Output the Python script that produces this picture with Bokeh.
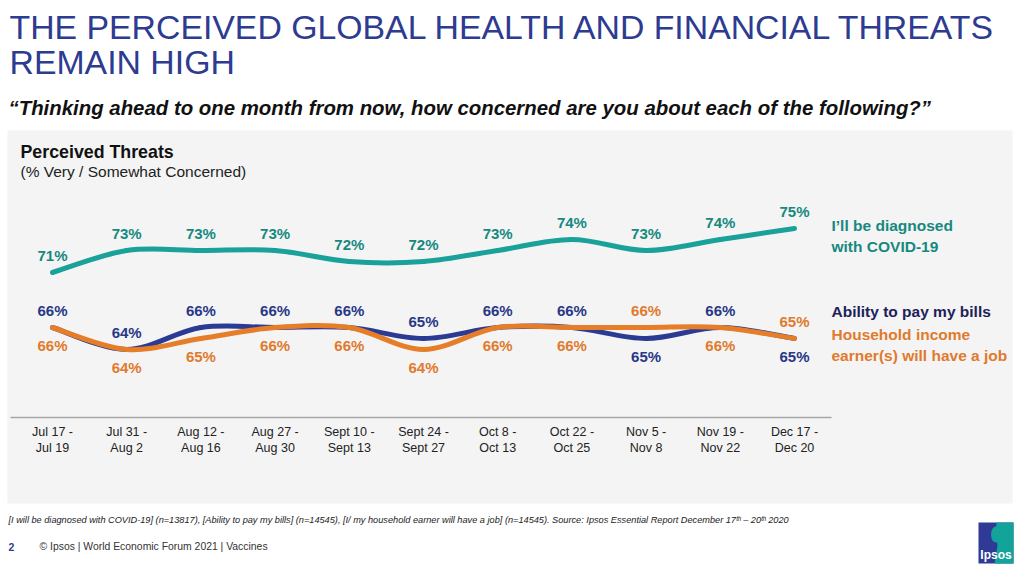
from bokeh.plotting import figure
from bokeh.models import Range1d
from bokeh.core.properties import value
from bokeh.embed import file_html
from bokeh.resources import INLINE

# ---------------- data ----------------
periods = ["Jul 17 -\nJul 19", "Jul 31 -\nAug 2", "Aug 12 -\nAug 16", "Aug 27 -\nAug 30",
           "Sept 10 -\nSept 13", "Sept 24 -\nSept 27", "Oct 8 -\nOct 13", "Oct 22 -\nOct 25",
           "Nov 5 -\nNov 8", "Nov 19 -\nNov 22", "Dec 17 -\nDec 20"]
covid = [71, 73, 73, 73, 72, 72, 73, 74, 73, 74, 75]
bills = [66, 64, 66, 66, 66, 65, 66, 66, 65, 66, 65]
job = [66, 64, 65, 66, 66, 64, 66, 66, 66, 66, 65]
series_names = ["I\u2019ll be diagnosed\nwith COVID-19", "Ability to pay my bills",
                "Household income\nearner(s) will have a job"]

# label placement (style): True = above the line
covid_above = [True] * 11
bills_above = [True, True, True, True, True, True, True, True, False, True, False]
job_above = [False, False, False, False, False, False, False, False, True, False, True]

TEAL_L, TEAL_T = "#19a19a", "#16897f"
BLUE_L, BLUE_T = "#2b3a93", "#283786"
ORNG_L, ORNG_T = "#e67d28", "#e07a2c"
NAVY = "#1c2259"
FONT = value("Liberation Sans")

W, H = 1024, 573
# data frame mapping: index 0 -> 52px, step 74.2px ; value 66 -> 327px from top, 11px/pt
dx = 74.2
x0 = -52 / dx
ppt = 11.0
ytop = 66 + 327 / ppt
ybot = 66 - (H - 327) / ppt

p = figure(width=W, height=H, output_backend="svg", toolbar_location=None,
           x_range=Range1d(x0, x0 + W / dx), y_range=Range1d(ybot, ytop),
           x_axis_location=None, y_axis_location=None, min_border=0,
           outline_line_color=None, tools="")
p.grid.visible = False
p.background_fill_color = "white"
p.border_fill_color = "white"
p.extra_x_ranges = {"px": Range1d(0, W)}
p.extra_y_ranges = {"px": Range1d(H, 0)}

PX = dict(x_range_name="px", y_range_name="px")


def ptext(x, y, t, size, color, style="normal", align="left", baseline="middle", font=FONT, lh=1.2):
    p.text(x=[x], y=[y], text=[t], text_font=font, text_font_size=f"{size}px",
           text_font_style=style, text_color=color, text_align=align,
           text_baseline=baseline, text_line_height=lh, **PX)


# panel
p.quad(left=[7], right=[1012], top=[130], bottom=[503], fill_color="#f4f4f4",
       line_color=None, **PX)

# titles
ptext(9, 26, "THE PERCEIVED GLOBAL HEALTH AND FINANCIAL THREATS", 33.8, "#2d3b90")
ptext(9, 61, "REMAIN HIGH", 33.8, "#2d3b90")
ptext(8, 107, "\u201cThinking ahead to one month from now, how concerned are you about each of the following?\u201d",
      20.4, "#111111", style="bold italic")
ptext(20, 151, "Perceived Threats", 17.8, "#111111", style="bold")
ptext(20, 171, "(% Very / Somewhat Concerned)", 15.5, "#222222")

# axis line
p.segment(x0=[10], y0=[417], x1=[831], y1=[417], line_color="#a6a6a6", line_width=1.5, **PX)

# tick labels (category axis)
idx = list(range(len(periods)))
p.text(x=idx, y=[424] * len(idx), text=periods, text_font=FONT, text_font_size="12.5px",
       text_color="#222222", text_align="center", text_baseline="top",
       text_line_height=1.2, y_range_name="px")


def smooth(ys, color, width=5):
    n = len(ys)
    xs = list(range(n))
    X0, Y0, X1, Y1, CX0, CY0, CX1, CY1 = ([] for _ in range(8))
    for i in range(n - 1):
        ip = max(i - 1, 0)
        inn = min(i + 2, n - 1)
        X0.append(xs[i]); Y0.append(ys[i])
        X1.append(xs[i + 1]); Y1.append(ys[i + 1])
        CX0.append(xs[i] + (xs[i + 1] - xs[ip]) / 6)
        CY0.append(ys[i] + (ys[i + 1] - ys[ip]) / 6)
        CX1.append(xs[i + 1] - (xs[inn] - xs[i]) / 6)
        CY1.append(ys[i + 1] - (ys[inn] - ys[i]) / 6)
    p.bezier(x0=X0, y0=Y0, x1=X1, y1=Y1, cx0=CX0, cy0=CY0, cx1=CX1, cy1=CY1,
             line_color=color, line_width=width, line_cap="round")


smooth(covid, TEAL_L)
smooth(bills, BLUE_L)
smooth(job, ORNG_L)


def labels(ys, above, color):
    for i, v in enumerate(ys):
        p.text(x=[i], y=[v], text=[f"{v}%"], text_font=FONT, text_font_size="15px",
               text_font_style="bold", text_color=color, text_align="center",
               text_baseline="middle", y_offset=-17 if above[i] else 18)


labels(covid, covid_above, TEAL_T)
labels(bills, bills_above, BLUE_T)
labels(job, job_above, ORNG_T)

# series names on the right
ptext(831, 235.5, series_names[0], 15.5, TEAL_T, style="bold", lh=1.22)
ptext(831, 311, series_names[1], 15.5, NAVY, style="bold")
ptext(831, 344.5, series_names[2], 15.5, ORNG_T, style="bold", lh=1.22)

# footer
ptext(8, 519, "[I will be diagnosed with COVID-19] (n=13817), [Ability to pay my bills] (n=14545), "
      "[I/ my household earner will have a job] (n=14545).  Source: Ipsos Essential Report December 17\u1d57\u02b0 \u2013 20\u1d57\u02b0 2020",
      9.2, "#222222", style="italic")
ptext(8, 546, "2", 10.5, "#2f3d91", style="bold")
ptext(39, 546, "\u00a9 Ipsos |  World Economic Forum 2021 | Vaccines", 10.4, "#333333")

# logo
p.quad(left=[978], right=[1013], top=[522], bottom=[563], fill_color="#2e3a96", line_color=None, **PX)
p.patch(x=[996, 1013, 1013, 994, 997, 995], y=[522, 522, 563, 563, 545, 533],
        fill_color="#12a39a", line_color=None, **PX)
p.ellipse(x=[995.5], y=[534], width=[10], height=[16], fill_color="#12a39a", line_color=None, **PX)
ptext(995.5, 554, "Ipsos", 12, "white", style="bold", align="center")

open("out.html", "w").write(file_html(p, INLINE))
